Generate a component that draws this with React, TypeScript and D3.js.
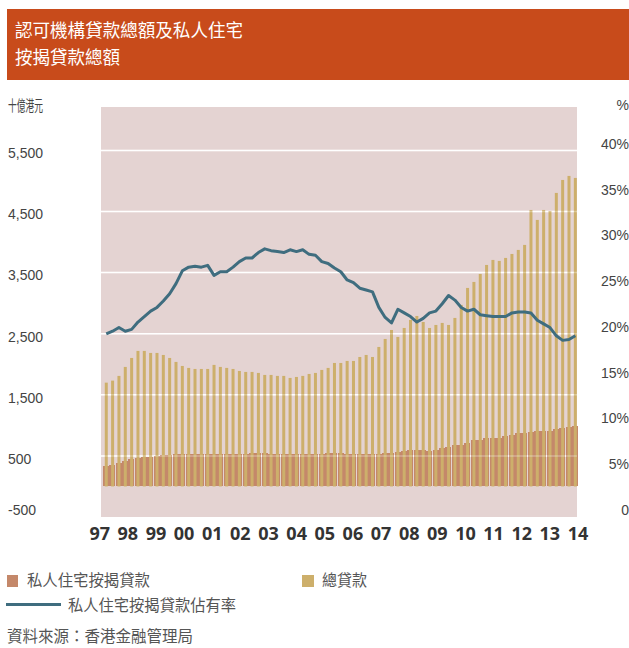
import React from "react";
import * as d3 from "d3";

// 總貸款 (十億港元), quarterly
const totalLoans = [
  1699, 1732, 1809, 1956, 2103, 2218, 2218, 2185, 2185, 2152,
  2103, 2038, 1972, 1940, 1923, 1923, 1923, 1989, 1956, 1940,
  1923, 1890, 1874, 1874, 1858, 1825, 1825, 1809, 1809, 1776,
  1792, 1809, 1841, 1858, 1907, 1940, 2021, 2021, 2054, 2054,
  2119, 2152, 2119, 2283, 2414, 2561, 2447, 2594, 2725, 2790,
  2692, 2594, 2643, 2676, 2643, 2758, 2971, 3249, 3347, 3478,
  3625, 3707, 3691, 3740, 3805, 3871, 3953, 4525, 4362, 4525,
  4509, 4804, 5016, 5082, 5049,
];

// 私人住宅按揭貸款 (十億港元)
const mortgageLoans = [
  341, 357, 390, 420, 445, 471, 488, 488, 504, 510,
  520, 525, 537, 537, 537, 537, 537, 537, 537, 537,
  537, 537, 537, 545, 553, 548, 531, 531, 531, 531,
  531, 531, 531, 531, 531, 548, 548, 548, 531, 531,
  531, 531, 531, 531, 548, 548, 564, 580, 597, 597,
  597, 581, 597, 630, 646, 679, 679, 712, 761, 761,
  794, 794, 794, 826, 843, 876, 876, 892, 908, 908,
  908, 941, 957, 974, 990,
];

// 私人住宅按揭貸款佔有率 (%)
const mortgageShare = [
  20.0, 20.3, 20.7, 20.3, 20.5, 21.3, 21.9, 22.5, 22.9, 23.6,
  24.4, 25.5, 26.9, 27.3, 27.4, 27.3, 27.5, 26.4, 26.8, 26.8,
  27.3, 27.9, 28.3, 28.3, 28.9, 29.3, 29.1, 29.0, 28.9, 29.2,
  29.0, 29.2, 28.7, 28.6, 27.9, 27.7, 27.2, 26.8, 25.9, 25.6,
  25.0, 24.8, 24.6, 22.9, 21.8, 21.2, 22.7, 22.3, 21.9, 21.3,
  21.7, 22.3, 22.5, 23.3, 24.2, 23.7, 22.9, 22.5, 22.7, 22.1,
  22.0, 21.9, 21.9, 21.9, 22.3, 22.4, 22.4, 22.3, 21.5, 21.1,
  20.7, 19.8, 19.3, 19.4, 19.8,
];

const yearLabels = ["97", "98", "99", "00", "01", "02", "03", "04", "05", "06", "07", "08", "09", "10", "11", "12", "13", "14"];
const leftTicks = [5500, 4500, 3500, 2500, 1500, 500, -500];
const rightTicks = [40, 35, 30, 25, 20, 15, 10, 5, 0];

const W = 629;
const H = 648;
const plot = { left: 101, right: 577, top: 107, bottom: 517 };

const cjk = "'Noto Sans CJK TC', 'Noto Sans CJK SC', sans-serif";
const numFont = "'Liberation Sans', Arial, sans-serif";

const COLORS = {
  header: "#C84B1B",
  plotBg: "#E4D3D2",
  total: "#CDAF6B",
  mortgage: "#C4886A",
  line: "#3F6D7F",
  tick: "#444",
  legend: "#555",
};

const fmt = (t: number) => d3.format(",")(t).replace("−", "-");

const App: React.FC = () => {
  const idx = d3.range(totalLoans.length);
  const x = d3.scaleBand<number>().domain(idx).range([103.1, 578.5]).padding(0);
  const step = x.step();
  const cx = (i: number) => (x(i) ?? 0) + step / 2;

  const yL = d3.scaleLinear().domain([-500, 6210]).range([plot.bottom, plot.top]);
  const yR = d3.scaleLinear().domain([0, 44.8]).range([plot.bottom, plot.top]);
  const yearX = d3.scalePoint<string>().domain(yearLabels).range([99.7, 578]);

  const line = d3
    .line<number>()
    .x((_, i) => cx(i))
    .y((d) => yR(d))
    .curve(d3.curveLinear);

  const grid = leftTicks.filter((t) => t > -500);

  return (
    <svg width={W} height={H} style={{ position: "absolute", left: 0, top: 0, background: "#fff" }}>
      {/* header */}
      <rect x={7} y={9} width={W - 7} height={71} fill={COLORS.header} />
      <text x={15} y={37} fill="#fff" fontFamily={cjk} fontSize={18} textLength={228} lengthAdjust="spacingAndGlyphs">
        認可機構貸款總額及私人住宅
      </text>
      <text x={15} y={64} fill="#fff" fontFamily={cjk} fontSize={18} textLength={105} lengthAdjust="spacingAndGlyphs">
        按揭貸款總額
      </text>

      {/* plot background */}
      <rect x={plot.left} y={plot.top} width={plot.right - plot.left} height={plot.bottom - plot.top} fill={COLORS.plotBg} />
      {grid.map((t) => (
        <line key={t} x1={plot.left} x2={plot.right} y1={yL(t)} y2={yL(t)} stroke="#fff" strokeWidth={1.5} />
      ))}

      {/* mortgage bars (wide) */}
      <g shapeRendering="crispEdges">
        {mortgageLoans.map((v, i) => (
          <rect key={i} x={x(i)} y={yL(v)} width={step - 0.34} height={yL(0) - yL(v)} fill={COLORS.mortgage} />
        ))}
      </g>
      {/* total loan bars (thin) */}
      {totalLoans.map((v, i) => (
        <rect key={i} x={cx(i) - 1.5} y={yL(v)} width={3} height={yL(0) - yL(v)} fill={COLORS.total} />
      ))}
      {grid.map((t) => (
        <line key={"o" + t} x1={plot.left} x2={plot.right} y1={yL(t)} y2={yL(t)} stroke="#fff" strokeOpacity={0.3} strokeWidth={1.5} />
      ))}

      {/* share line */}
      <path d={line(mortgageShare) ?? ""} fill="none" stroke={COLORS.line} strokeWidth={3} strokeLinejoin="round" />

      {/* left axis */}
      <text x={8} y={111} fill={COLORS.tick} fontFamily={cjk} fontSize={15} textLength={35} lengthAdjust="spacingAndGlyphs">
        十億港元
      </text>
      {leftTicks.map((t) => (
        <text key={t} x={8} y={Math.min(yL(t) + 3, 510)} dy="0.35em" fill={COLORS.tick} fontFamily={numFont} fontSize={14}>
          {fmt(t)}
        </text>
      ))}

      {/* right axis */}
      <text x={629} y={110} textAnchor="end" fill={COLORS.tick} fontFamily={numFont} fontSize={14}>
        %
      </text>
      {rightTicks.map((t) => (
        <text key={t} x={629} y={yR(t) - 7} dy="0.35em" textAnchor="end" fill={COLORS.tick} fontFamily={numFont} fontSize={14}>
          {t === 0 ? "0" : `${t}%`}
        </text>
      ))}

      {/* year labels */}
      {yearLabels.map((yl) => (
        <text key={yl} x={yearX(yl)} y={540} textAnchor="middle" fill="#333" fontFamily="'Open Sans', sans-serif" fontWeight={700} fontSize={18}>
          {yl}
        </text>
      ))}

      {/* legend */}
      <rect x={7} y={575} width={11} height={12} fill={COLORS.mortgage} />
      <text x={27} y={586} fill={COLORS.legend} fontFamily={cjk} fontSize={16} textLength={123} lengthAdjust="spacingAndGlyphs">
        私人住宅按揭貸款
      </text>
      <rect x={302} y={575} width={12} height={12} fill={COLORS.total} />
      <text x={322} y={586} fill={COLORS.legend} fontFamily={cjk} fontSize={16} textLength={45} lengthAdjust="spacingAndGlyphs">
        總貸款
      </text>
      <line x1={6} x2={61} y1={604.5} y2={604.5} stroke={COLORS.line} strokeWidth={3} />
      <text x={68} y={611} fill={COLORS.legend} fontFamily={cjk} fontSize={16} textLength={168} lengthAdjust="spacingAndGlyphs">
        私人住宅按揭貸款佔有率
      </text>
      <text x={7} y={642} fill={COLORS.legend} fontFamily={cjk} fontSize={16} textLength={186} lengthAdjust="spacingAndGlyphs">
        資料來源：香港金融管理局
      </text>
    </svg>
  );
};

export default App;
